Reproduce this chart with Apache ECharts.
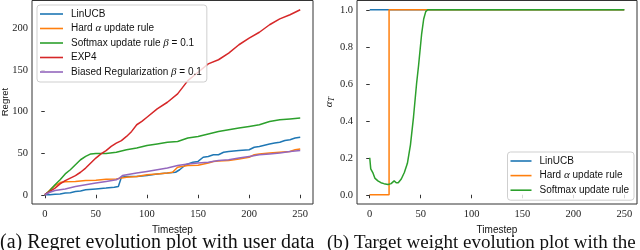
<!DOCTYPE html>
<html><head><meta charset="utf-8">
<script src="https://cdn.jsdelivr.net/npm/echarts@6/dist/echarts.min.js"></script>
<style>html,body{margin:0;padding:0;background:#fff}#c{width:640px;height:250px}</style>
</head><body><div id="c"></div>
<script>
// tick labels
const xTicks = [0, 50, 100, 150, 200, 250];
const regretTicks = [0, 50, 100, 150, 200];
const alphaTicks = [0, 0.2, 0.4, 0.6, 0.8, 1.0];

// left panel: regret [timestep, regret]
const regretLinUCB = [[0,0],[5,0],[10,0.5],[15,1],[20,2],[25,2.5],[30,4],[35,4.5],[40,6],[50,7],[60,8],[68,9],[72,10],[75,21],[80,22],[90,22],[100,23],[110,25],[120,26],[128,27],[132,30],[138,36],[145,39],[150,40],[155,45],[160,46],[165,48],[170,48],[175,51],[180,52],[190,53],[200,54],[205,57],[210,58],[220,61],[225,62],[230,63],[235,65],[240,66],[245,68],[250,69]];
const regretHard = [[0,0],[3,3],[6,7],[10,11],[13,13],[16,15],[20,15.5],[30,16],[40,17],[50,17.5],[60,18.5],[70,19],[75,20],[80,21],[90,22],[100,24],[110,25],[120,26],[125,27],[130,33],[140,35],[150,35.5],[160,38],[165,40],[170,40.5],[180,41],[190,43],[200,45],[205,48],[210,49],[220,50],[230,51],[240,52],[245,54],[250,55]];
const regretSoftmax = [[0,0],[5,5],[10,12],[15,18],[20,25],[25,30],[30,36],[35,42],[40,46],[45,49],[50,49.5],[60,49.5],[70,51],[80,54],[90,56],[100,59],[110,61],[120,63],[130,64],[135,66],[140,68],[150,70],[160,73],[170,76],[180,78],[190,80],[200,82],[210,84],[220,88],[230,90],[240,91],[250,92]];
const regretEXP4 = [[0,0],[5,4],[10,8],[15,13],[20,17],[25,20],[30,23],[35,27],[40,32],[45,38],[50,44],[55,49],[60,53],[65,58],[70,62],[75,65],[80,70],[85,76],[90,84],[95,88],[100,93],[110,103],[120,111],[130,121],[140,137],[150,147],[160,157],[170,162],[180,170],[190,180],[200,188],[210,195],[220,204],[230,211],[240,216],[250,222]];
const regretBiased = [[0,0],[5,3],[10,5],[20,7],[30,10],[40,12],[50,14],[60,16],[70,18],[73,20],[76,23],[80,24],[90,26],[100,28],[110,30],[120,32],[130,35],[140,37],[150,38],[160,39],[170,41],[180,42],[190,44],[200,46],[210,48],[220,49],[230,50],[240,52],[250,53]];

// right panel: target weight alpha_T [timestep, alpha]
const alphaLinUCB = [[0,1],[250,1]];
const alphaHard = [[0,0],[19,0],[19,1],[250,1]];
const alphaSoftmax = [[0,0.2],[1,0.14],[3,0.12],[5,0.09],[8,0.075],[11,0.065],[14,0.06],[18,0.055],[21,0.06],[24,0.075],[26,0.065],[28,0.065],[31,0.085],[34,0.12],[37,0.17],[40,0.27],[43,0.42],[46,0.6],[48,0.7],[51,0.87],[53,0.95],[55,0.99],[57,1.0],[250,1.0]];

const leftNames = ['LinUCB','Hard α update rule','Softmax update rule β = 0.1','EXP4','Biased Regularization β = 0.1'];
const rightNames = ['LinUCB','Hard α update rule','Softmax update rule'];
const colors = ['#1f77b4','#ff7f0e','#2ca02c','#d62728','#9467bd'];

const serif = 'Liberation Serif';
const sans = 'Liberation Sans';
const axisCol = '#333';

function xAx(gi){
  return {type:'value',gridIndex:gi,min:-12.5,max:262.5,
    axisLine:{show:false},
    axisTick:{show:true,length:3.5,lineStyle:{color:axisCol,width:1},customValues:xTicks},
    axisLabel:{customValues:xTicks,fontFamily:serif,fontSize:10.5,color:'#222',margin:5,interval:0,hideOverlap:false},
    splitLine:{show:false},
    name:'Timestep',nameLocation:'middle',nameGap:11,
    nameTextStyle:{fontFamily:sans,fontSize:10,color:'#111'}};
}
const mathRich = {m:{fontFamily:serif,fontStyle:'italic',fontSize:11}};
function legendFmt(n){ return n.replace(/([αβ])/g,'{m|$1}'); }

const lines = (data, name, ci, x, y) => ({type:'line', name, data, xAxisIndex:x, yAxisIndex:y,
  showSymbol:false, symbol:'none', lineStyle:{width:1.5,color:colors[ci]}, itemStyle:{color:colors[ci]}});

const baseGraphics = [
  {id:'regretName',type:'text',x:5,y:102,rotation:Math.PI/2,style:{text:'Regret',fontFamily:sans,fontSize:9.5,fill:'#111',align:'center',verticalAlign:'middle'}},
  {id:'capA',type:'text',left:0,top:233,style:{text:'(a) Regret evolution plot with user data',fontFamily:serif,fontSize:20,fill:'#111'}},
  {id:'capB',type:'text',left:327,top:234,style:{text:'(b) Target weight evolution plot with the',fontFamily:serif,fontSize:19,fill:'#111'}}
];

const option = {
  animation:false,
  backgroundColor:'#fff',
  grid:[
    {left:32,right:327,top:0.5,bottom:46,show:true,borderColor:axisCol,borderWidth:1,backgroundColor:'transparent',outerBoundsMode:'none'},
    {left:357,right:3,top:0.5,bottom:46,show:true,borderColor:axisCol,borderWidth:1,backgroundColor:'transparent',outerBoundsMode:'none'}
  ],
  xAxis:[xAx(0),xAx(1)],
  yAxis:[
    {type:'value',gridIndex:0,min:-11.1,max:233.1,
     axisLine:{show:false},
     axisTick:{show:true,length:3.5,lineStyle:{color:axisCol},customValues:regretTicks},
     axisLabel:{show:false},
     splitLine:{show:false}},
    {type:'value',gridIndex:1,min:-0.05,max:1.05,
     axisLine:{show:false},
     axisTick:{show:true,length:3.5,lineStyle:{color:axisCol},customValues:alphaTicks},
     axisLabel:{customValues:alphaTicks,fontFamily:serif,fontSize:10.5,color:'#222',margin:4,interval:0,hideOverlap:false,
       formatter:v=>v.toFixed(1)},
     splitLine:{show:false},
     name:'{a|α}{s|T}',nameLocation:'middle',nameGap:21,
     nameTextStyle:{rich:{a:{fontFamily:serif,fontStyle:'italic',fontSize:11,color:'#111'},
                          s:{fontFamily:serif,fontStyle:'italic',fontSize:8,color:'#111',verticalAlign:'bottom',padding:[6,0,0,0]}}}}
  ],
  legend:[
    {data:leftNames, orient:'vertical', left:37, top:5, icon:'rect', itemWidth:23, itemHeight:1.6,
     itemGap:2.5, padding:[3,5,4,3], borderColor:'#cfcfcf', borderWidth:1, borderRadius:3,
     backgroundColor:'rgba(255,255,255,0.8)',
     formatter:legendFmt,
     textStyle:{fontFamily:sans,fontSize:10,color:'#111',lineHeight:12,padding:[0,0,0,3],rich:mathRich}},
    {data:rightNames, orient:'vertical', right:6, top:152, icon:'rect', itemWidth:21, itemHeight:1.6,
     itemGap:2.6, padding:[3,5,4,3], borderColor:'#cfcfcf', borderWidth:1, borderRadius:3,
     backgroundColor:'rgba(255,255,255,0.8)',
     formatter:legendFmt,
     textStyle:{fontFamily:sans,fontSize:10,color:'#111',lineHeight:12,padding:[0,0,0,3],rich:mathRich}}
  ],
  series:[
    lines(regretLinUCB, leftNames[0], 0, 0, 0),
    lines(regretHard, leftNames[1], 1, 0, 0),
    lines(regretSoftmax, leftNames[2], 2, 0, 0),
    lines(regretEXP4, leftNames[3], 3, 0, 0),
    lines(regretBiased, leftNames[4], 4, 0, 0),
    lines(alphaLinUCB, rightNames[0], 0, 1, 1),
    lines(alphaHard, rightNames[1], 1, 1, 1),
    lines(alphaSoftmax, rightNames[2], 2, 1, 1)
  ],
  graphic: baseGraphics
};
const chart = echarts.init(document.getElementById('c'));
chart.setOption(option);

// left y tick labels, positioned through the axis scale, on a top layer
const gridLeftPx = chart.convertToPixel({xAxisIndex:0}, -12.5);
const tickLabelGraphics = regretTicks.map((v, i) => ({
  id:'ytl' + i, type:'text', zlevel:1, z:100,
  x: gridLeftPx - 4,
  y: chart.convertToPixel({yAxisIndex:0}, v),
  style:{text:String(v), fontFamily:serif, fontSize:10.5, fill:'#222', align:'right', verticalAlign:'middle'}
}));
chart.setOption({graphic: baseGraphics.concat(tickLabelGraphics)});
</script></body></html>
